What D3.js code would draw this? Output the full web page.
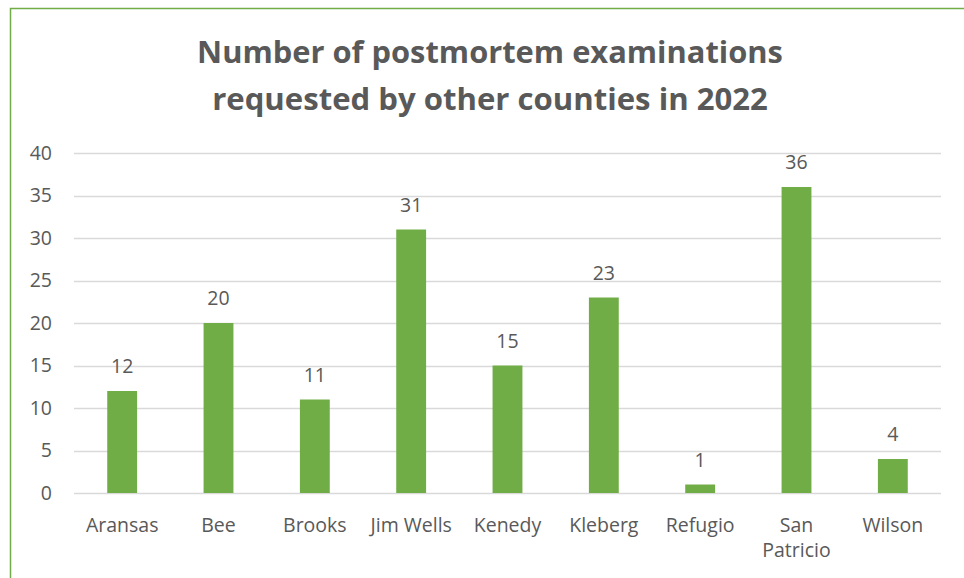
<!DOCTYPE html>
<html>
<head>
<meta charset="utf-8">
<script src="https://cdn.jsdelivr.net/npm/d3@7"></script>
<style>
  html, body { margin: 0; padding: 0; background: #fff; }
  svg { display: block; }
</style>
</head>
<body>
<svg id="chart" width="964" height="578"></svg>
<script>
// Counties and number of postmortem examinations requested in 2022
const counties = ["Aransas", "Bee", "Brooks", "Jim Wells", "Kenedy", "Kleberg", "Refugio", "San Patricio", "Wilson"];
const exams = [12, 20, 11, 31, 15, 23, 1, 36, 4];
const yTicks = [0, 5, 10, 15, 20, 25, 30, 35, 40];
const titleLines = ["Number of postmortem examinations", "requested by other counties in 2022"];

const FONT = "'Open Sans', 'DejaVu Sans', sans-serif";
const TEXT = "#595959";
const GREEN = "#70AD47";
const GRID = "#D9D9D9";
const LABEL_SIZE = 19.5;

const svg = d3.select("#chart");

// chart frame
svg.append("rect")
  .attr("x", 10.5).attr("y", 8.5)
  .attr("width", 970).attr("height", 600)
  .attr("fill", "none").attr("stroke", GREEN).attr("stroke-width", 1.5);

const plot = { left: 74, right: 941, top: 153, bottom: 493 };

const x = d3.scaleBand()
  .domain(counties)
  .range([plot.left, plot.right])
  .paddingInner(0.69)
  .paddingOuter(0.345);

const y = d3.scaleLinear()
  .domain([0, 40])
  .range([plot.bottom, plot.top]);

// title, sized to its set width
const titleWidths = [586, 556];
const titleBaselines = [63, 110];
titleLines.forEach((line, i) => {
  const t = svg.append("text")
    .attr("x", 490).attr("y", titleBaselines[i])
    .attr("text-anchor", "middle")
    .attr("font-family", FONT)
    .attr("font-weight", 700)
    .attr("font-size", 30)
    .attr("fill", TEXT)
    .text(line);
  const w = t.node().getComputedTextLength();
  t.attr("font-size", 30 * titleWidths[i] / w);
});

// gridlines
svg.append("g")
  .selectAll("line")
  .data(yTicks)
  .join("line")
  .attr("x1", plot.left).attr("x2", plot.right)
  .attr("y1", d => Math.round(y(d)) + 0.5)
  .attr("y2", d => Math.round(y(d)) + 0.5)
  .attr("stroke", GRID).attr("stroke-width", 1.5);

// y axis labels
const yAxis = d3.axisLeft(y).tickValues(yTicks).tickSize(0).tickPadding(0);
svg.append("g")
  .attr("transform", `translate(52,0)`)
  .call(yAxis)
  .call(g => g.select(".domain").remove())
  .selectAll("text")
  .attr("font-family", FONT)
  .attr("font-size", LABEL_SIZE)
  .attr("fill", TEXT);

// bars
svg.append("g")
  .selectAll("rect")
  .data(counties)
  .join("rect")
  .attr("x", d => x(d))
  .attr("width", x.bandwidth())
  .attr("y", (d, i) => y(exams[i]))
  .attr("height", (d, i) => y(0) - y(exams[i]))
  .attr("fill", GREEN);

// value labels
svg.append("g")
  .selectAll("text")
  .data(counties)
  .join("text")
  .attr("x", d => x(d) + x.bandwidth() / 2)
  .attr("y", (d, i) => y(exams[i]) - 18)
  .attr("text-anchor", "middle")
  .attr("font-family", FONT)
  .attr("font-size", LABEL_SIZE)
  .attr("fill", TEXT)
  .text((d, i) => exams[i]);

// category labels (two-word name wrapped onto two lines)
const xAxis = d3.axisBottom(x).tickSize(0).tickPadding(0);
const xg = svg.append("g")
  .attr("transform", `translate(0,${plot.bottom})`)
  .call(xAxis);
xg.select(".domain").remove();
xg.selectAll("text").remove();
xg.selectAll(".tick").each(function(d) {
  const lines = d === "San Patricio" ? d.split(" ") : [d];
  const t = d3.select(this).append("text")
    .attr("text-anchor", "middle")
    .attr("font-family", FONT)
    .attr("font-size", LABEL_SIZE)
    .attr("fill", TEXT);
  lines.forEach((ln, i) => {
    t.append("tspan").attr("x", 0).attr("y", 39 + i * 25).text(ln);
  });
});
</script>
</body>
</html>
